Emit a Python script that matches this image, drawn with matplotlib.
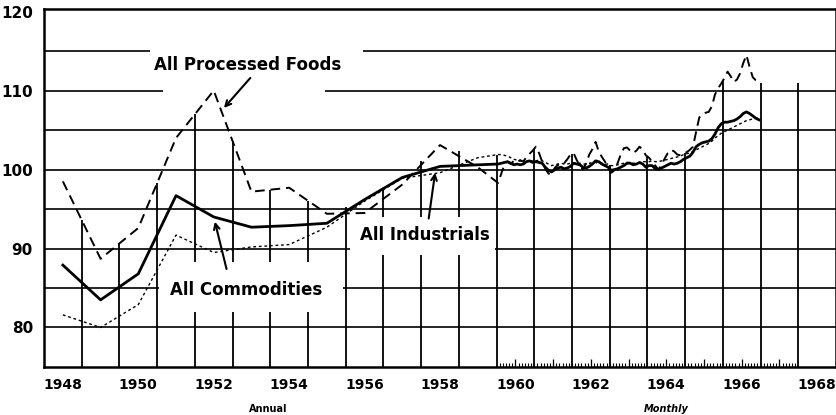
# Wholesale price indexes 1948-1966 (1957-59 = 100), annual then monthly
import numpy as np
import matplotlib
matplotlib.use("Agg")
import matplotlib.pyplot as plt
from matplotlib.patches import Rectangle

# annual values 1948-1959
annual_years = list(range(1948, 1960))
food_annual = [98.5, 88.7, 92.6, 104.0, 110.0, 97.2, 97.7, 94.4, 94.5, 98.1, 103.1, 100.3]
commod_annual = [87.9, 83.5, 86.8, 96.7, 94.0, 92.7, 92.9, 93.2, 96.2, 99.0, 100.4, 100.6]
indus_annual = [81.6, 80.0, 82.9, 91.7, 89.5, 90.2, 90.5, 92.7, 96.0, 98.9, 99.6, 101.5]

# monthly values Jan 1960 - Dec 1966
food_monthly = [
    98.3, 99.5, 100.6, 101.0, 100.7, 101.1, 100.9, 101.2, 101.0, 101.6, 102.0, 102.4,
    102.9, 102.1, 101.0, 100.1, 99.5, 99.3, 100.2, 100.6, 100.5, 100.8, 101.3, 101.9,
    102.1, 101.2, 100.5, 100.0, 100.8, 101.9, 102.6, 103.5, 102.3, 101.6, 101.0, 100.2,
    99.6, 99.9, 100.8, 101.9, 102.7, 102.8, 102.4, 102.1, 102.4, 102.9, 102.5, 101.8,
    101.5, 101.0, 100.5, 100.0, 100.6, 101.4, 102.1, 102.5, 102.3, 101.9, 101.8, 102.0,
    102.2, 102.5, 102.9, 104.8, 106.6, 107.0, 107.2, 107.3, 108.0, 109.5, 110.3, 110.9,
    111.6, 112.4, 111.8, 111.1, 111.4, 112.2, 113.5, 114.5, 113.0, 111.7, 111.3, 111.1,
]
commod_monthly = [
    100.7, 100.8, 100.9, 101.0, 100.8, 100.6, 100.7, 100.6, 100.7, 101.0, 101.1, 100.9,
    101.0, 100.9, 100.8, 100.3, 99.9, 99.7, 100.0, 100.2, 100.3, 100.1, 100.2, 100.4,
    100.8, 100.7, 100.6, 100.3, 100.2, 100.4, 100.7, 101.1, 101.0, 100.7, 100.5, 100.3,
    99.9, 100.0, 100.1, 100.3, 100.5, 100.8, 100.8, 100.6, 100.7, 100.9, 100.7, 100.3,
    100.5, 100.5, 100.1, 100.0, 100.2, 100.4, 100.6, 100.8, 100.7, 100.8, 101.0, 101.3,
    101.5, 101.7, 102.2, 102.9, 103.2, 103.4, 103.5, 103.6, 103.9, 104.5, 105.3, 105.8,
    106.0, 106.0, 106.1, 106.2, 106.4, 106.7, 107.1, 107.3, 107.1, 106.8, 106.5, 106.3,
]
indus_monthly = [
    101.9, 101.9, 101.8, 101.7, 101.5, 101.3, 101.2, 101.1, 101.0, 101.0, 101.1, 101.1,
    101.1, 101.2, 101.1, 100.9, 100.7, 100.5, 100.6, 100.7, 100.8, 100.7, 100.7, 100.8,
    100.8, 100.9, 100.8, 100.7, 100.7, 100.8, 100.9, 100.9, 100.8, 100.8, 100.7, 100.7,
    100.5, 100.5, 100.6, 100.7, 100.8, 100.9, 100.9, 100.8, 100.8, 100.9, 101.0, 101.0,
    101.0, 101.1, 101.0, 101.0, 101.1, 101.2, 101.3, 101.4, 101.5, 101.6, 101.7, 101.9,
    102.0, 102.1, 102.3, 102.5, 102.7, 102.9, 103.1, 103.3, 103.6, 104.0, 104.3, 104.6,
    104.8, 105.0, 105.2, 105.4, 105.6, 105.8, 106.0, 106.2, 106.3, 106.4, 106.5, 106.6,
]

year_labels = ["1948", "1950", "1952", "1954", "1956", "1958", "1960", "1962", "1964", "1966", "1968"]
y_ticks = [80, 90, 100, 110, 120]

# x positions: annual points at mid-year, monthly at mid-month
x_annual = np.array(annual_years) + 0.5
x_monthly = 1960 + (np.arange(len(food_monthly)) + 0.5) / 12
x_all = np.concatenate([x_annual, x_monthly])
food = np.array(food_annual + food_monthly)
commod = np.array(commod_annual + commod_monthly)
indus = np.array(indus_annual + indus_monthly)

plt.rcParams['font.family'] = ['DejaVu Sans']
fig = plt.figure(figsize=(8.37, 4.15), dpi=100)
ax = fig.add_axes([0.0526, 0.1157, 0.9462, 0.8620])
ax.set_xlim(1948, 1969)
ax.set_ylim(75, 120.3)

# horizontal rules every 5 points
for v in range(80, 120, 5):
    ax.axhline(v, color='black', lw=1.2, zorder=1)

# vertical year rules run up to the highest curve
top = np.maximum(np.maximum(food, commod), indus)
for yr in range(1949, 1969):
    if yr <= x_all[-1]:
        h = np.interp(yr, x_all, top)
    else:
        h = 111
    ax.vlines(yr, 75, h, color='black', lw=1.3, zorder=1)

# white areas behind the labels
blanks = [
    (1950.81, 112.3, 5.65, 5.2),
    (1951.16, 108.5, 4.29, 3.8),
    (1956.11, 89.2, 3.86, 4.8),
    (1951.05, 82.0, 4.88, 6.3),
]
for bx, by, bw, bh in blanks:
    ax.add_patch(Rectangle((bx, by), bw, bh, facecolor='white', edgecolor='none', zorder=2))

ax.plot(x_all, food, color='black', lw=1.4, dashes=(5, 3), zorder=3)
ax.plot(x_all, commod, color='black', lw=2.0, zorder=3)
ax.plot(x_all, indus, color='black', lw=1.0, dashes=(2, 2), zorder=3)

lab = dict(fontsize=12, fontweight='bold', ha='center', va='center', zorder=4)
arr = dict(arrowstyle='->', color='black', lw=1.5, shrinkA=0, shrinkB=0)
ax.text(1953.41, 113.2, "All Processed Foods", **lab)
ax.annotate("", xy=(1952.77, 107.8), xytext=(1953.47, 111.6), arrowprops=arr, zorder=4)
ax.text(1958.1, 91.7, "All Industrials", **lab)
ax.annotate("", xy=(1958.37, 99.6), xytext=(1958.2, 93.8), arrowprops=arr, zorder=4)
ax.text(1953.36, 84.7, "All Commodities", **lab)
ax.annotate("", xy=(1952.53, 93.4), xytext=(1952.84, 87.4), arrowprops=arr, zorder=4)

# axes, ticks
for s in ax.spines.values():
    s.set_linewidth(1.8)
ax.set_yticks(y_ticks)
ax.set_yticklabels([str(v) for v in y_ticks], fontsize=11, fontweight='bold')
ax.set_xticks([int(t) + 0.5 for t in year_labels])
ax.set_xticklabels(year_labels, fontsize=10, fontweight='bold')
ax.tick_params(axis='both', length=0)
ax.tick_params(axis='y', pad=8)
ax.tick_params(axis='x', pad=8)

# month ticks along the bottom of the monthly section
ax.set_xticks(1960 + np.arange(1, 96) / 12, minor=True)
ax.tick_params(axis='x', which='minor', direction='in', length=3, width=0.8)
sec = ax.secondary_xaxis('bottom')
sec.set_xticks(np.arange(1960, 1968) + 0.5)
sec.set_xticklabels([])
sec.tick_params(direction='in', length=6, width=0.9)
sec.spines['bottom'].set_visible(False)

ax.text(1953.94, 69.7, "Annual", fontsize=7, fontweight='bold', ha='center', va='center', clip_on=False)
ax.text(1964.5, 69.7, "Monthly", fontsize=7, fontweight='bold', ha='center', va='center',
        style='italic', clip_on=False)

fig.savefig("out.png", dpi=100)
